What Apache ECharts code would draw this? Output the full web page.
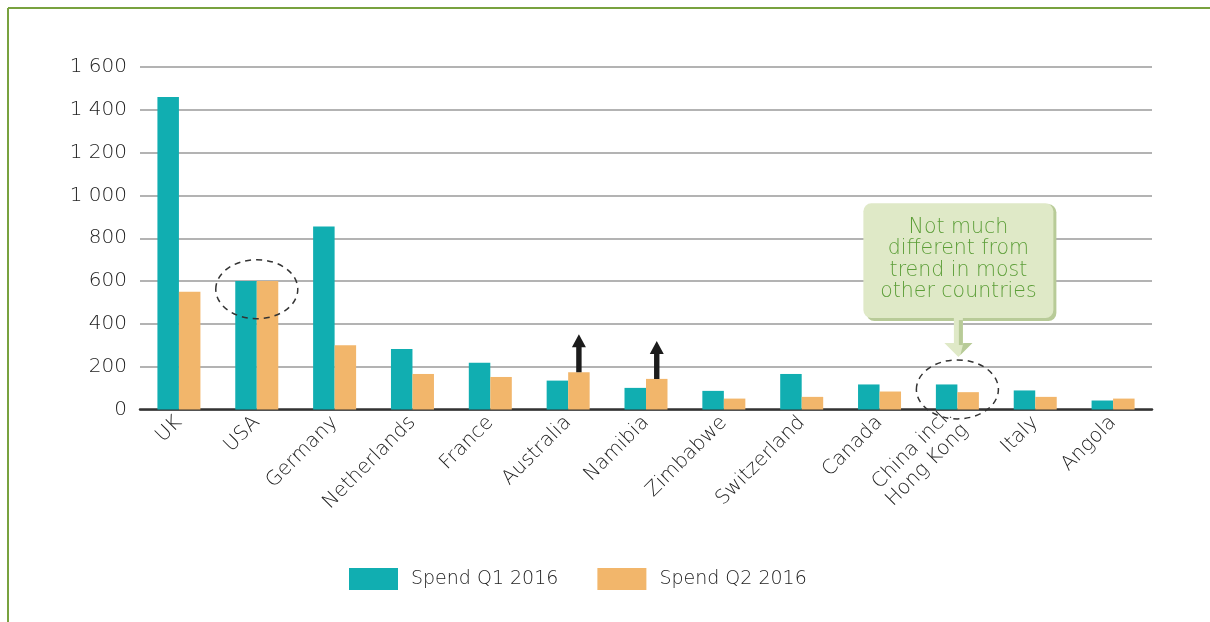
<!DOCTYPE html>
<html>
<head>
<meta charset="utf-8">
<script src="https://cdn.jsdelivr.net/npm/echarts@6/dist/echarts.min.js"></script>
<style>
  html, body { margin: 0; padding: 0; background: #ffffff; }
  #chart { width: 1210px; height: 622px; }
</style>
</head>
<body>
<div id="chart"></div>
<script>
// Country spend, Q1 vs Q2 2016
const categories = ['UK', 'USA', 'Germany', 'Netherlands', 'France', 'Australia', 'Namibia',
  'Zimbabwe', 'Switzerland', 'Canada', 'China incl.\nHong Kong', 'Italy', 'Angola'];
const spendQ1 = [1460, 600, 855, 283, 218, 135, 101, 87, 166, 117, 117, 89, 42];
const spendQ2 = [550, 600, 300, 166, 152, 174, 143, 51, 59, 84, 81, 59, 51];
const seriesNames = ['Spend Q1 2016', 'Spend Q2 2016'];
const yTicks = [0, 200, 400, 600, 800, 1000, 1200, 1400, 1600];

// Highlights: rising countries get an arrow, circled groups get a dashed ring
const risingCountries = ['Australia', 'Namibia'];
const circledGroups = [
  { category: 'USA', centerValue: 562 },
  { category: 'China incl.\nHong Kong', centerValue: 94 }
];
const calloutText = 'Not much\ndifferent from\ntrend in most\nother countries';
const calloutCategory = 'China incl.\nHong Kong';

const TEAL = '#11aeb1';
const ORANGE = '#f2b66b';
const FONT = '"DejaVu Sans", "Open Sans", sans-serif';
const TEXT = '#222';
const BAR_W = 21.5;

const chart = echarts.init(document.getElementById('chart'), null, { renderer: 'canvas' });

function fmtThousands(v) {
  const s = String(v);
  return s.length > 3 ? s.slice(0, s.length - 3) + ' ' + s.slice(-3) : s;
}

chart.setOption({
  animation: false,
  backgroundColor: '#ffffff',
  grid: { left: 140, right: 58, top: 67, bottom: 212.5, containLabel: false },
  legend: {
    data: seriesNames,
    bottom: 27,
    left: 344,
    itemWidth: 49,
    itemHeight: 22,
    itemGap: 39,
    icon: 'rect',
    textStyle: { fontFamily: FONT, fontSize: 19, color: TEXT, fontWeight: 200, padding: [0, 0, 0, 8] }
  },
  xAxis: {
    type: 'category',
    data: categories,
    axisLine: { lineStyle: { color: '#333', width: 2.5 } },
    axisTick: { show: false },
    axisLabel: {
      interval: 0,
      rotate: 45,
      margin: 10,
      fontFamily: FONT,
      fontSize: 20,
      fontWeight: 200,
      color: TEXT,
      lineHeight: 22,
      align: 'right'
    }
  },
  yAxis: {
    type: 'value',
    min: yTicks[0],
    max: yTicks[yTicks.length - 1],
    interval: 200,
    axisLine: { show: false },
    axisTick: { show: false },
    splitLine: { lineStyle: { color: '#9a9a9a', width: 1.5 } },
    axisLabel: {
      margin: 13,
      fontFamily: FONT,
      fontSize: 20,
      fontWeight: 200,
      color: TEXT,
      formatter: fmtThousands
    }
  },
  series: [
    { name: seriesNames[0], type: 'bar', data: spendQ1, barWidth: BAR_W, barGap: '0%',
      itemStyle: { color: TEAL } },
    { name: seriesNames[1], type: 'bar', data: spendQ2, barWidth: BAR_W, barGap: '0%',
      itemStyle: { color: ORANGE } }
  ]
});

function px(cat, value) {
  return chart.convertToPixel({ gridIndex: 0 }, [categories.indexOf(cat), value]);
}

const graphics = [];

// Green frame lines (top and left)
graphics.push({ type: 'line', shape: { x1: 8, y1: 8, x2: 1210, y2: 8 },
  style: { stroke: '#78a23f', lineWidth: 2 }, z: 10 });
graphics.push({ type: 'line', shape: { x1: 8, y1: 8, x2: 8, y2: 622 },
  style: { stroke: '#78a23f', lineWidth: 2 }, z: 10 });

// Upward arrows on the Q2 bars of rising countries
risingCountries.forEach(function (c) {
  const i = categories.indexOf(c);
  const p = px(c, spendQ2[i]);
  const x = p[0] + BAR_W / 2;
  const base = p[1];
  const tip = base - 38;
  const sw = 2.7, hw = 7, hh = 13;
  graphics.push({
    type: 'polygon', z: 20,
    shape: { points: [
      [x - sw, base], [x - sw, tip + hh], [x - hw, tip + hh], [x, tip],
      [x + hw, tip + hh], [x + sw, tip + hh], [x + sw, base]
    ] },
    style: { fill: '#1c1c1c' }
  });
});

// Dashed rings
circledGroups.forEach(function (g) {
  const p = px(g.category, g.centerValue);
  graphics.push({
    type: 'ellipse', z: 20,
    shape: { cx: p[0], cy: p[1], rx: 41, ry: 29.5 },
    style: { fill: null, stroke: '#333', lineWidth: 1.5, lineDash: [6, 5] }
  });
});

// Callout box with pointer
(function () {
  const c = px(calloutCategory, 0);
  const cx = c[0] + 1;
  const boxTop = px(calloutCategory, 963)[1];
  const boxBot = px(calloutCategory, 427)[1];
  const tipY = px(calloutCategory, 245)[1];
  const w = 190;
  const left = cx - w / 2;
  const light = '#dfe9c7';
  const dark = '#b8cb98';
  // shadow
  graphics.push({ type: 'rect', z: 21,
    shape: { x: left + 3, y: boxTop + 1, width: w, height: boxBot - boxTop + 2, r: 8 },
    style: { fill: dark } });
  graphics.push({ type: 'rect', z: 22,
    shape: { x: left, y: boxTop, width: w, height: boxBot - boxTop, r: 8 },
    style: { fill: light } });
  // pointer shaft and head
  const headTop = tipY - 14;
  graphics.push({ type: 'polygon', z: 22,
    shape: { points: [[cx - 4.5, boxBot], [cx - 4.5, headTop], [cx - 14, headTop], [cx, tipY],
      [cx + 14, headTop], [cx + 4.5, headTop], [cx + 4.5, boxBot]] },
    style: { fill: light } });
  graphics.push({ type: 'polygon', z: 23,
    shape: { points: [[cx + 0.5, boxBot + 2], [cx + 0.5, headTop + 2], [cx + 4.5, headTop + 2],
      [cx + 4.5, boxBot + 2]] },
    style: { fill: dark } });
  graphics.push({ type: 'polygon', z: 23,
    shape: { points: [[cx + 5, headTop], [cx + 14, headTop], [cx + 2, tipY - 2]] },
    style: { fill: dark } });
  graphics.push({ type: 'text', z: 24,
    x: cx, y: (boxTop + boxBot) / 2 - 1,
    style: { text: calloutText, fill: '#5c9e38', font: '200 20.5px ' + FONT,
      align: 'center', verticalAlign: 'middle', lineHeight: 21.5 } });
})();

chart.setOption({ graphic: graphics });
</script>
</body>
</html>
